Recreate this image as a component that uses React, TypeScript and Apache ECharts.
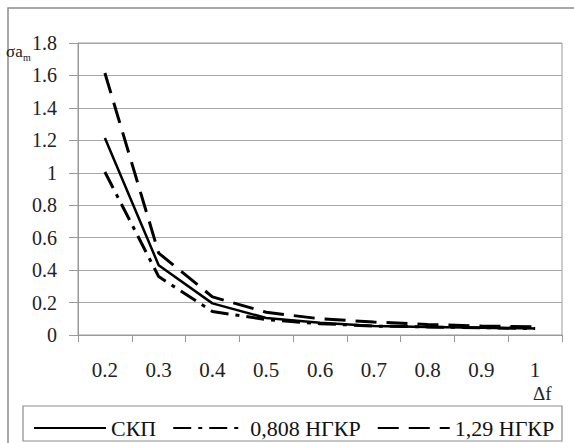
import React, { useEffect, useRef } from "react";
import * as echarts from "echarts";

const categories = ["0.2", "0.3", "0.4", "0.5", "0.6", "0.7", "0.8", "0.9", "1"];
const skpValues = [1.215, 0.43, 0.195, 0.105, 0.075, 0.055, 0.05, 0.045, 0.04];
const ngkr0808Values = [1.005, 0.36, 0.145, 0.095, 0.07, 0.055, 0.05, 0.045, 0.04];
const ngkr129Values = [1.615, 0.505, 0.235, 0.14, 0.1, 0.08, 0.065, 0.055, 0.05];
const seriesNames = ["СКП", "0,808 НГКР", "1,29 НГКР"];

const FONT = "Liberation Serif";

export default function App() {
  const ref = useRef<HTMLDivElement>(null);
  useEffect(() => {
    if (!ref.current) return;
    const chart = echarts.init(ref.current, undefined, { renderer: "svg" });
    const gray = "#999999";
    chart.setOption({
      animation: false,
      backgroundColor: "#ffffff",
      textStyle: { fontFamily: FONT },
      grid: {
        left: 78,
        right: 12,
        top: 43,
        bottom: 108,
        show: true,
        borderColor: gray,
        borderWidth: 1,
      },
      xAxis: {
        type: "category",
        data: categories,
        boundaryGap: true,
        axisLine: { lineStyle: { color: gray, width: 1 } },
        axisTick: { show: true, length: 7, lineStyle: { color: gray } },
        axisLabel: { color: "#222", fontFamily: FONT, fontSize: 21, margin: 24 },
        splitLine: { show: false },
      },
      yAxis: {
        type: "value",
        min: 0,
        max: 1.8,
        interval: 0.2,
        axisLine: { show: true, lineStyle: { color: gray, width: 1 } },
        axisTick: { show: true, length: 9, lineStyle: { color: gray } },
        axisLabel: { color: "#222", fontFamily: FONT, fontSize: 20, margin: 21 },
        splitLine: { show: true, lineStyle: { color: "#a8a8a8", width: 1 } },
      },
      legend: {
        left: 28,
        top: 412,
        itemWidth: 72,
        itemHeight: 14,
        itemGap: 16,
        itemStyle: { opacity: 0 },
        textStyle: { color: "#111", fontFamily: FONT, fontSize: 22 },
        data: seriesNames,
      },
      graphic: [
        {
          type: "rect",
          shape: { x: 8, y: 8, width: 600, height: 500 },
          style: { fill: "none", stroke: "#8c8c8c", lineWidth: 1.5 },
          silent: true,
        },
        {
          type: "rect",
          shape: { x: 23, y: 406, width: 539, height: 35 },
          style: { fill: "none", stroke: "#8c8c8c", lineWidth: 1.2 },
          silent: true,
        },
        {
          type: "text",
          x: 533,
          y: 384,
          style: {
            text: "Δf",
            fontFamily: FONT,
            fontSize: 19,
            fill: "#222",
          },
        },
        {
          type: "text",
          x: 6,
          y: 43,
          style: {
            text: "σa",
            fontFamily: FONT,
            fontSize: 17,
            fill: "#222",
          },
        },
        {
          type: "text",
          x: 23,
          y: 52,
          style: {
            text: "m",
            fontFamily: FONT,
            fontSize: 10,
            fill: "#222",
          },
        },
      ],
      series: [
        {
          name: seriesNames[0],
          type: "line",
          data: skpValues,
          symbol: "none",
          lineStyle: { color: "#000", width: 2.5, type: "solid" },
          itemStyle: { color: "#000" },
        },
        {
          name: seriesNames[1],
          type: "line",
          data: ngkr0808Values,
          symbol: "none",
          lineStyle: { color: "#000", width: 3, type: [18, 7, 4, 7] },
          itemStyle: { color: "#000" },
        },
        {
          name: seriesNames[2],
          type: "line",
          data: ngkr129Values,
          symbol: "none",
          lineStyle: { color: "#000", width: 3, type: [21, 10] },
          itemStyle: { color: "#000" },
        },
      ],
    });
    return () => chart.dispose();
  }, []);
  return (
    <div
      ref={ref}
      style={{ position: "fixed", left: 0, top: 0, width: 574, height: 443 }}
    />
  );
}
